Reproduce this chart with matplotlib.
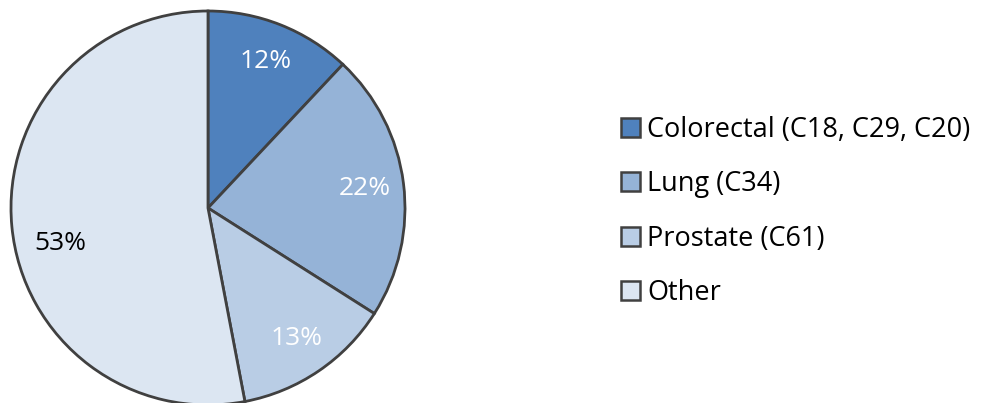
import numpy as np
import matplotlib.pyplot as plt
from matplotlib.patches import Patch

labels = ['Colorectal (C18, C29, C20)', 'Lung (C34)', 'Prostate (C61)', 'Other']
shares = [12, 22, 13, 53]
colors = ['#4F81BD', '#95B3D7', '#B9CDE5', '#DCE6F2']
pct_colors = ['white', 'white', 'white', 'black']

plt.rcParams['font.family'] = ['Open Sans', 'DejaVu Sans']

fig = plt.figure(figsize=(9.94, 4.03), dpi=100)
ax = fig.add_axes([11 / 994, -2 / 403, 394 / 994, 394 / 403])

wedges, texts, autotexts = ax.pie(
    shares, colors=colors, startangle=90, counterclock=False,
    autopct='%1.0f%%', pctdistance=0.8, radius=1,
    wedgeprops=dict(edgecolor='#404040', linewidth=2))
for t, c in zip(autotexts, pct_colors):
    t.set_color(c)
    t.set_fontsize(19)

# the big slice label sits a bit lower in the original
w = wedges[-1]
ang = np.deg2rad((w.theta1 + w.theta2) / 2 + 8)
autotexts[-1].set_position((0.77 * np.cos(ang), 0.77 * np.sin(ang)))

ax.set_xlim(-1.0, 1.0)
ax.set_ylim(-1.0, 1.0)
ax.set_aspect('equal')

handles = [Patch(facecolor=c, edgecolor='#404040', linewidth=1.8) for c in colors]
fig.legend(handles, labels, loc='center left', bbox_to_anchor=(607 / 994, 0.475),
           frameon=False, fontsize=19.5, handlelength=0.7, handleheight=0.7,
           handletextpad=0.28, labelspacing=0.97, borderpad=0)

fig.savefig('out.png', dpi=100)
